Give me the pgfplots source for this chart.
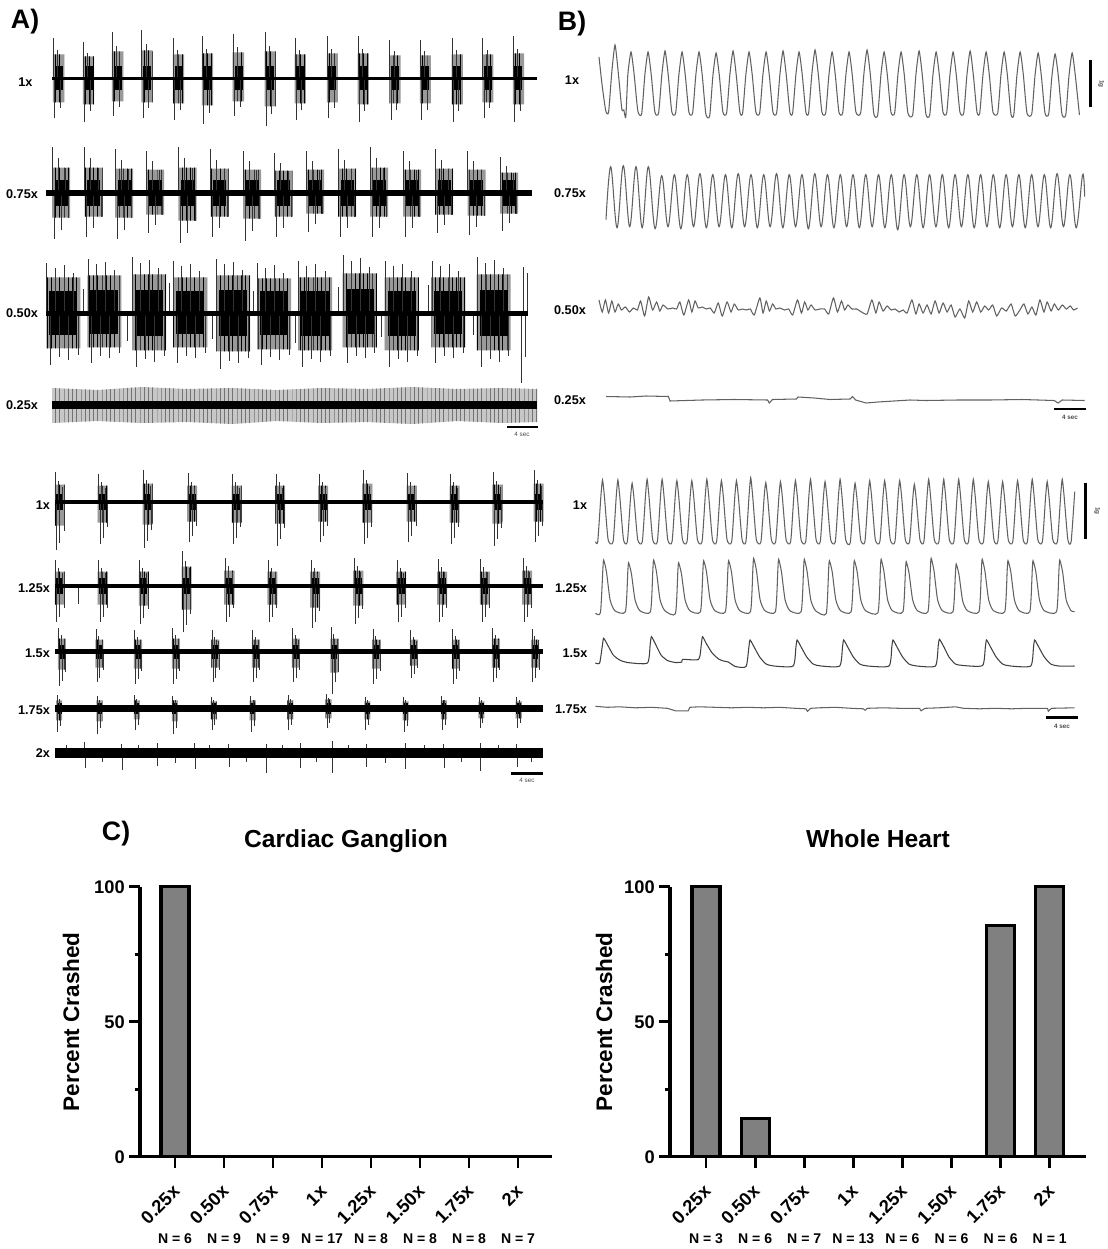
\documentclass[border=0pt]{standalone}
\usepackage{fontspec}
\setmainfont{Liberation Sans}
\usepackage{pgfplots}
\usepackage{pgfplotstable}
\pgfplotsset{compat=1.18}
\usetikzlibrary{patterns}

\pgfplotsset{
  tr/.style={hide axis, scale only axis, clip=false, anchor=west, x=0.1875cm, y=0.25cm, xmin=0, ymin=-7, ymax=7},
  trb/.style={hide axis, scale only axis, clip=false, anchor=west, x=0.2cm, y=0.25cm, xmin=0, ymin=-7, ymax=7},
  spk/.style={ycomb, mark=none, draw=black!80, line width=0.5pt},
  wave/.style={mark=none, draw=black!62, line width=0.75pt, smooth, tension=0.35},
  base/.style={mark=none, draw=black, line width=#1},
  cax/.style={scale only axis, anchor=south west, height=6.75cm, ymin=0, ymax=100, clip=false,
    axis x line=bottom, axis y line=left,
    axis line style={line width=2.2pt},
    x axis line style={-}, y axis line style={-},
    xtick=\empty, ytick=\empty},
}

\newcommand\env[3]{%
  \addplot[ybar, bar width=#2, fill=black!40, draw=none] table[x=t,y=hu]{#1};
  \addplot[ybar, bar width=#2, fill=black!40, draw=none] table[x=t,y=hd]{#1};
  \addplot[ybar, bar width=#2, pattern=vertical lines, pattern color=black, draw=none] table[x=t,y=hu]{#1};
  \addplot[ybar, bar width=#2, pattern=vertical lines, pattern color=black, draw=none] table[x=t,y=hd]{#1};
  \addplot[ycomb, mark=none, draw=black, line width=#3] table[x=t,y=cu]{#1};
  \addplot[ycomb, mark=none, draw=black, line width=#3] table[x=t,y=cd]{#1};
}
\newcommand\tl{\fontsize{9}{10}\selectfont\bfseries}

\pgfplotstableread{
t hu hd cu cd
0.87 2.4 -2.4 1.2 -1.2
4.87 2.2 -2.6 1.2 -1.2
8.74 2.7 -2.3 1.2 -1.2
12.66 2.8 -2.4 1.2 -1.2
16.87 2.4 -2.5 1.2 -1.2
20.74 2.5 -2.7 1.2 -1.2
24.87 2.6 -2.3 1.2 -1.2
29.1 2.7 -2.8 1.2 -1.2
33.1 2.4 -2.5 1.2 -1.2
37.37 2.5 -2.4 1.2 -1.2
41.5 2.5 -2.6 1.2 -1.2
45.71 2.3 -2.5 1.2 -1.2
49.77 2.3 -2.5 1.2 -1.2
54.03 2.4 -2.6 1.2 -1.2
58.1 2.4 -2.4 1.2 -1.2
62.17 2.5 -2.6 1.2 -1.2
}\EnvAa

\pgfplotstableread{
t hu hd cu cd
2.07 2.5 -2.5 1.3 -1.3
6.4 2.5 -2.4 1.3 -1.3
10.47 2.4 -2.5 1.3 -1.3
14.6 2.3 -2.2 1.3 -1.3
18.93 2.5 -2.8 1.3 -1.3
23.2 2.4 -2.4 1.3 -1.3
27.53 2.3 -2.6 1.3 -1.3
31.73 2.2 -2.4 1.3 -1.3
35.93 2.3 -2.1 1.3 -1.3
40.2 2.4 -2.4 1.3 -1.3
44.47 2.5 -2.4 1.3 -1.3
48.87 2.3 -2.4 1.3 -1.3
53.13 2.4 -2.2 1.3 -1.3
57.47 2.3 -2.3 1.3 -1.3
61.8 2.0 -2.1 1.3 -1.3
}\EnvAb

\pgfplotstableread{
t hu hd cu cd
2.31 3.6 -3.5 2.2 -2.2
7.79 3.8 -3.4 2.3 -2.1
13.73 3.9 -3.7 2.3 -2.3
19.2 3.6 -3.4 2.2 -2.1
24.93 3.8 -3.8 2.3 -2.3
30.4 3.5 -3.6 2.2 -2.2
35.87 3.6 -3.7 2.2 -2.3
41.83 4.0 -3.4 2.4 -2.1
47.45 3.6 -3.7 2.2 -2.3
53.64 3.6 -3.4 2.2 -2.1
59.68 3.9 -3.7 2.3 -2.3
}\EnvAc

\pgfplotstableread{
t hu hd cu cd
0.59 1.7 -2.4 0.8 -0.8
6.34 1.6 -2.1 0.8 -0.8
12.28 1.8 -2.3 0.8 -0.8
18.22 1.6 -2.0 0.8 -0.8
24.16 1.6 -2.1 0.8 -0.8
29.96 1.6 -2.2 0.8 -0.8
35.7 1.6 -2.0 0.8 -0.8
41.55 1.8 -2.1 0.8 -0.8
47.5 1.6 -2.0 0.8 -0.8
53.22 1.6 -2.1 0.8 -0.8
58.92 1.7 -2.2 0.8 -0.8
64.4 1.8 -2.0 0.8 -0.8
}\EnvAd

\pgfplotstableread{
t hu hd cu cd
0.59 1.4 -1.9 0.8 -0.8
6.34 1.4 -1.9 0.8 -0.8
11.78 1.4 -2.0 0.8 -0.8
17.5 1.9 -2.4 0.8 -0.8
23.22 1.5 -1.9 0.8 -0.8
28.92 1.4 -1.9 0.8 -0.8
34.63 1.4 -2.2 0.8 -0.8
40.36 1.5 -2.0 0.8 -0.8
46.07 1.4 -1.9 0.8 -0.8
51.55 1.4 -1.9 0.8 -0.8
57.26 1.4 -1.9 0.8 -0.8
62.88 1.5 -1.9 0.8 -0.8
}\EnvAe

\pgfplotstableread{
t hu hd cu cd
0.86 1.3 -1.8 0.7 -0.7
5.86 1.2 -1.6 0.7 -0.7
11.01 1.2 -1.7 0.7 -0.7
16.05 1.3 -1.7 0.7 -0.7
21.33 1.2 -1.6 0.7 -0.7
26.72 1.2 -1.6 0.7 -0.7
32.05 1.3 -1.6 0.7 -0.7
37.2 1.3 -2.1 0.7 -0.7
42.77 1.2 -1.7 0.7 -0.7
47.77 1.2 -1.4 0.7 -0.7
53.38 1.2 -1.7 0.7 -0.7
58.72 1.3 -1.6 0.7 -0.7
63.96 1.2 -1.6 0.7 -0.7
}\EnvAf

\pgfplotstableread{
t hu hd cu cd
0.51 0.8 -1.2 0.5 -0.6
5.85 0.8 -1.3 0.5 -0.6
10.85 0.8 -1.1 0.5 -0.6
15.94 0.8 -1.3 0.5 -0.6
21.09 0.7 -1.1 0.5 -0.6
26.33 0.8 -1.2 0.5 -0.6
31.31 0.8 -1.1 0.5 -0.6
36.42 0.9 -1.0 0.5 -0.6
41.57 0.7 -1.1 0.5 -0.6
46.7 0.7 -1.2 0.5 -0.6
51.79 0.8 -1.1 0.5 -0.6
56.79 0.7 -1.0 0.5 -0.6
61.79 0.7 -1.0 0.5 -0.6
}\EnvAg

\begin{document}
\begin{tikzpicture}[x=0.025cm, y=-0.025cm]
\path[use as bounding box] (0,0) rectangle (1107,1249);

% ================= Panel A, top block =================
\begin{axis}[tr, at={(52*0.025cm,-78.3*0.025cm)}, xmax=64.7]
\env{\EnvAa}{0.28cm}{0.2cm}
\addplot[spk] coordinates {(0.17,4.0)(0.37,-4.0)(0.77,2.8)(1.07,-3.0)(4.17,3.6)(4.37,-4.4)(4.77,2.5)(5.07,-3.3)(8.04,4.6)(8.24,-3.8)(8.64,3.2)(8.94,-2.9)(11.96,4.8)(12.16,-4.0)(12.56,3.4)(12.86,-3.0)(16.17,4.0)(16.37,-4.2)(16.77,2.8)(17.07,-3.2)(20.04,4.2)(20.24,-4.6)(20.64,2.9)(20.94,-3.5)(24.17,4.4)(24.37,-3.8)(24.77,3.1)(25.07,-2.9)(28.4,4.6)(28.6,-4.8)(29.0,3.2)(29.3,-3.6)(32.4,4.0)(32.6,-4.2)(33.0,2.8)(33.3,-3.2)(36.67,4.2)(36.87,-4.0)(37.27,2.9)(37.57,-3.0)(40.8,4.2)(41.0,-4.4)(41.4,2.9)(41.7,-3.3)(45.01,3.8)(45.21,-4.2)(45.61,2.7)(45.91,-3.2)(49.07,3.8)(49.27,-4.2)(49.67,2.7)(49.97,-3.2)(53.33,4.0)(53.53,-4.4)(53.93,2.8)(54.23,-3.3)(57.4,4.0)(57.6,-4.0)(58.0,2.8)(58.3,-3.0)(61.47,4.2)(61.67,-4.4)(62.07,2.9)(62.37,-3.3)};
\addplot[base=0.075cm] coordinates {(0,0)(64.7,0)};
\end{axis}

\begin{axis}[tr, at={(45.5*0.025cm,-192.7*0.025cm)}, xmax=64.9]
\env{\EnvAb}{0.45cm}{0.325cm}
\addplot[spk] coordinates {(0.87,4.6)(1.12,-4.6)(1.67,3.5)(2.07,-3.7)(2.67,2.5)(3.07,-2.5)(5.2,4.6)(5.45,-4.4)(6.0,3.5)(6.4,-3.5)(7.0,2.5)(7.4,-2.4)(9.27,4.4)(9.52,-4.6)(10.07,3.3)(10.47,-3.7)(11.07,2.4)(11.47,-2.5)(13.4,4.2)(13.65,-4.0)(14.2,3.2)(14.6,-3.2)(15.2,2.3)(15.6,-2.2)(17.73,4.6)(17.98,-5.0)(18.53,3.5)(18.93,-4.0)(19.53,2.5)(19.93,-2.8)(22.0,4.4)(22.25,-4.4)(22.8,3.3)(23.2,-3.5)(23.8,2.4)(24.2,-2.4)(26.33,4.2)(26.58,-4.8)(27.13,3.2)(27.53,-3.8)(28.13,2.3)(28.53,-2.6)(30.53,4.0)(30.78,-4.4)(31.33,3.0)(31.73,-3.5)(32.33,2.2)(32.73,-2.4)(34.73,4.2)(34.98,-3.9)(35.53,3.2)(35.93,-3.1)(36.53,2.3)(36.93,-2.1)(39.0,4.4)(39.25,-4.4)(39.8,3.3)(40.2,-3.5)(40.8,2.4)(41.2,-2.4)(43.27,4.6)(43.52,-4.4)(44.07,3.5)(44.47,-3.5)(45.07,2.5)(45.47,-2.4)(47.67,4.2)(47.92,-4.4)(48.47,3.2)(48.87,-3.5)(49.47,2.3)(49.87,-2.4)(51.93,4.4)(52.18,-4.0)(52.73,3.3)(53.13,-3.2)(53.73,2.4)(54.13,-2.2)(56.27,4.2)(56.52,-4.2)(57.07,3.2)(57.47,-3.4)(58.07,2.3)(58.47,-2.3)(60.6,3.6)(60.85,-3.8)(61.4,2.7)(61.8,-3.0)(62.4,2.0)(62.8,-2.1)};
\addplot[base=0.15cm] coordinates {(0,0)(64.9,0)};
\end{axis}

\begin{axis}[tr, at={(46*0.025cm,-313.3*0.025cm)}, xmax=64.3]
\env{\EnvAc}{0.85cm}{0.7cm}
\addplot[spk] coordinates {(0.11,5.0)(0.61,-5.2)(1.21,4.5)(1.81,-4.4)(2.41,4.8)(3.01,-4.7)(3.61,4.0)(4.31,-4.2)(5.0,2.4)(5.59,5.4)(6.09,-5.0)(6.69,4.9)(7.29,-4.3)(7.89,5.1)(8.49,-4.5)(9.09,4.3)(9.79,-4.0)(10.9,-2.8)(11.53,5.6)(12.03,-5.4)(12.63,5.0)(13.23,-4.6)(13.83,5.3)(14.43,-4.9)(15.03,4.5)(15.73,-4.3)(16.5,3.0)(17.0,5.2)(17.5,-5.0)(18.1,4.7)(18.7,-4.3)(19.3,4.9)(19.9,-4.5)(20.5,4.2)(21.2,-4.0)(22.2,-2.6)(22.73,5.4)(23.23,-5.6)(23.83,4.9)(24.43,-4.8)(25.03,5.1)(25.63,-5.0)(26.23,4.3)(26.93,-4.5)(27.7,2.2)(28.2,5.0)(28.7,-5.2)(29.3,4.5)(29.9,-4.4)(30.5,4.8)(31.1,-4.7)(31.7,4.0)(32.4,-4.2)(33.2,-3.0)(33.67,5.2)(34.17,-5.4)(34.77,4.7)(35.37,-4.6)(35.97,4.9)(36.57,-4.9)(37.17,4.2)(37.87,-4.3)(39.0,2.6)(39.63,5.8)(40.13,-5.0)(40.73,5.2)(41.33,-4.3)(41.93,5.5)(42.53,-4.5)(43.13,4.6)(43.83,-4.0)(44.7,-2.4)(45.25,5.2)(45.75,-5.4)(46.35,4.7)(46.95,-4.6)(47.55,4.9)(48.15,-4.9)(48.75,4.2)(49.45,-4.3)(50.9,2.8)(51.44,5.2)(51.94,-5.0)(52.54,4.7)(53.14,-4.3)(53.74,4.9)(54.34,-4.5)(54.94,4.2)(55.64,-4.0)(56.9,-2.2)(57.48,5.6)(57.98,-5.4)(58.58,5.0)(59.18,-4.6)(59.78,5.3)(60.38,-4.9)(60.98,4.5)(61.68,-4.3)(63.3,-7.0)(63.6,4.6)(63.9,-4.4)(64.2,4.0)};
\addplot[base=0.125cm] coordinates {(0,0)(64.3,0)};
\end{axis}

\begin{axis}[tr, at={(52*0.025cm,-405*0.025cm)}, xmax=64.7]
\addplot[fill=black!22, draw=none] coordinates {(0,1.7)(6,1.5)(12,1.8)(18,1.6)(24,1.7)(30,1.5)(36,1.7)(42,1.6)(48,1.8)(54,1.6)(60,1.7)(64.7,1.6)(64.7,-1.7)(60,-1.8)(54,-1.6)(48,-1.9)(42,-1.7)(36,-1.8)(30,-1.6)(24,-1.9)(18,-1.7)(12,-1.8)(6,-1.6)(0,-1.8)};
\addplot[pattern=vertical lines, pattern color=black!55, draw=none] coordinates {(0,1.7)(6,1.5)(12,1.8)(18,1.6)(24,1.7)(30,1.5)(36,1.7)(42,1.6)(48,1.8)(54,1.6)(60,1.7)(64.7,1.6)(64.7,-1.7)(60,-1.8)(54,-1.6)(48,-1.9)(42,-1.7)(36,-1.8)(30,-1.6)(24,-1.9)(18,-1.7)(12,-1.8)(6,-1.6)(0,-1.8)};
\addplot[base=0.2cm] coordinates {(0,0)(64.7,0)};
\end{axis}

% ================= Panel A, bottom block =================
\begin{axis}[tr, at={(55.4*0.025cm,-501.7*0.025cm)}, xmax=65]
\env{\EnvAd}{0.25cm}{0.175cm}
\addplot[spk] coordinates {(0.04,3.0)(0.19,-4.8)(0.44,2.1)(0.59,-4.1)(0.94,1.5)(1.14,-2.9)(5.79,2.8)(5.94,-4.2)(6.19,2.0)(6.34,-3.6)(6.69,1.4)(6.89,-2.5)(11.73,3.2)(11.88,-4.6)(12.13,2.2)(12.28,-3.9)(12.63,1.6)(12.83,-2.8)(17.67,2.9)(17.82,-4.0)(18.07,2.0)(18.22,-3.4)(18.57,1.5)(18.77,-2.4)(23.61,2.8)(23.76,-4.2)(24.01,2.0)(24.16,-3.6)(24.51,1.4)(24.71,-2.5)(29.41,2.8)(29.56,-4.4)(29.81,2.0)(29.96,-3.7)(30.31,1.4)(30.51,-2.6)(35.15,2.8)(35.3,-4.0)(35.55,2.0)(35.7,-3.4)(36.05,1.4)(36.25,-2.4)(41.0,3.2)(41.15,-4.2)(41.4,2.2)(41.55,-3.6)(41.9,1.6)(42.1,-2.5)(46.95,2.9)(47.1,-4.0)(47.35,2.0)(47.5,-3.4)(47.85,1.5)(48.05,-2.4)(52.67,2.8)(52.82,-4.2)(53.07,2.0)(53.22,-3.6)(53.57,1.4)(53.77,-2.5)(58.37,3.0)(58.52,-4.4)(58.77,2.1)(58.92,-3.7)(59.27,1.5)(59.47,-2.6)(63.85,3.2)(64.0,-4.0)(64.25,2.2)(64.4,-3.4)(64.75,1.6)(64.95,-2.4)};
\addplot[base=0.1cm] coordinates {(0,0)(65,0)};
\end{axis}

\begin{axis}[tr, at={(55.4*0.025cm,-585.7*0.025cm)}, xmax=65]
\env{\EnvAe}{0.25cm}{0.175cm}
\addplot[spk] coordinates {(0.04,2.6)(0.19,-3.6)(0.44,1.8)(0.59,-3.1)(0.94,1.3)(1.14,-2.2)(3.1,-1.8)(5.79,2.6)(5.94,-3.6)(6.19,1.8)(6.34,-3.1)(6.69,1.3)(6.89,-2.2)(11.23,2.6)(11.38,-3.8)(11.63,1.8)(11.78,-3.2)(12.13,1.3)(12.33,-2.3)(16.95,3.5)(17.1,-4.6)(17.35,2.5)(17.5,-3.9)(17.85,1.8)(18.05,-2.8)(22.67,2.8)(22.82,-3.6)(23.07,2.0)(23.22,-3.1)(23.57,1.4)(23.77,-2.2)(28.37,2.6)(28.52,-3.6)(28.77,1.8)(28.92,-3.1)(29.27,1.3)(29.47,-2.2)(34.08,2.6)(34.23,-4.2)(34.48,1.8)(34.63,-3.6)(34.98,1.3)(35.18,-2.5)(39.81,2.8)(39.96,-3.8)(40.21,2.0)(40.36,-3.2)(40.71,1.4)(40.91,-2.3)(45.52,2.6)(45.67,-3.6)(45.92,1.8)(46.07,-3.1)(46.42,1.3)(46.62,-2.2)(51.0,2.7)(51.15,-3.6)(51.4,1.9)(51.55,-3.1)(51.9,1.4)(52.1,-2.2)(56.71,2.7)(56.86,-3.6)(57.11,1.9)(57.26,-3.1)(57.61,1.4)(57.81,-2.2)(62.33,2.8)(62.48,-3.6)(62.73,2.0)(62.88,-3.1)(63.23,1.4)(63.43,-2.2)};
\addplot[base=0.1cm] coordinates {(0,0)(65,0)};
\end{axis}

\begin{axis}[tr, at={(55.4*0.025cm,-651.7*0.025cm)}, xmax=65]
\env{\EnvAf}{0.2cm}{0.15cm}
\addplot[spk] coordinates {(0.41,2.4)(0.53,-3.4)(0.76,1.7)(0.91,-2.9)(1.21,1.2)(1.36,-2.0)(5.41,2.3)(5.53,-3.0)(5.76,1.6)(5.91,-2.6)(6.21,1.2)(6.36,-1.8)(10.56,2.2)(10.68,-3.2)(10.91,1.5)(11.06,-2.7)(11.36,1.1)(11.51,-1.9)(15.6,2.4)(15.72,-3.2)(15.95,1.7)(16.1,-2.7)(16.4,1.2)(16.55,-1.9)(20.88,2.2)(21.0,-3.0)(21.23,1.5)(21.38,-2.6)(21.68,1.1)(21.83,-1.8)(26.27,2.2)(26.39,-3.0)(26.62,1.5)(26.77,-2.6)(27.07,1.1)(27.22,-1.8)(31.6,2.4)(31.72,-3.0)(31.95,1.7)(32.1,-2.6)(32.4,1.2)(32.55,-1.8)(36.75,2.5)(36.87,-4.2)(37.1,1.8)(37.25,-3.0)(37.55,1.3)(37.7,-2.0)(42.32,2.3)(42.44,-3.2)(42.67,1.6)(42.82,-2.7)(43.12,1.2)(43.27,-1.9)(47.32,2.2)(47.44,-2.6)(47.67,1.5)(47.82,-2.2)(48.12,1.1)(48.27,-1.6)(52.93,2.3)(53.05,-3.2)(53.28,1.6)(53.43,-2.7)(53.73,1.2)(53.88,-1.9)(58.27,2.4)(58.39,-3.0)(58.62,1.7)(58.77,-2.6)(59.07,1.2)(59.22,-1.8)(63.51,2.3)(63.63,-3.0)(63.86,1.6)(64.01,-2.6)(64.31,1.2)(64.46,-1.8)};
\addplot[base=0.125cm] coordinates {(0,0)(65,0)};
\end{axis}

\begin{axis}[tr, at={(55.4*0.025cm,-708.3*0.025cm)}, xmax=65]
\env{\EnvAg}{0.15cm}{0.125cm}
\addplot[spk] coordinates {(0.21,1.3)(0.31,-2.4)(0.51,0.9)(0.66,-1.8)(5.55,1.2)(5.65,-2.6)(5.85,0.8)(6.0,-2.0)(10.55,1.3)(10.65,-2.2)(10.85,0.9)(11.0,-1.7)(15.64,1.2)(15.74,-2.6)(15.94,0.8)(16.09,-2.0)(20.79,1.1)(20.89,-2.2)(21.09,0.8)(21.24,-1.7)(26.03,1.2)(26.13,-2.4)(26.33,0.8)(26.48,-1.8)(31.01,1.3)(31.11,-2.2)(31.31,0.9)(31.46,-1.7)(36.12,1.4)(36.22,-2.0)(36.42,1.0)(36.57,-1.5)(41.27,1.1)(41.37,-2.2)(41.57,0.8)(41.72,-1.7)(46.4,1.1)(46.5,-2.4)(46.7,0.8)(46.85,-1.8)(51.49,1.2)(51.59,-2.2)(51.79,0.8)(51.94,-1.7)(56.49,1.1)(56.59,-2.0)(56.79,0.8)(56.94,-1.5)(61.49,1.1)(61.59,-2.0)(61.79,0.8)(61.94,-1.5)};
\addplot[base=0.175cm] coordinates {(0,0)(65,0)};
\end{axis}

\begin{axis}[tr, at={(55.4*0.025cm,-752.7*0.025cm)}, xmax=65]
\addplot[spk] coordinates {(1.5,0.8)(3.89,1.1)(3.99,-1.5)(6.2,-0.9)(8.8,0.9)(8.9,-1.7)(11.0,0.8)(13.55,1.0)(13.65,-1.3)(16.0,-1.0)(18.56,1.0)(18.66,-1.6)(20.5,0.8)(23.09,0.9)(23.19,-1.4)(25.5,-0.9)(28.08,0.9)(28.18,-2.0)(30.2,0.8)(32.61,1.0)(32.71,-1.5)(34.8,-0.9)(36.88,1.2)(36.98,-2.0)(39.0,0.8)(41.41,0.9)(41.51,-1.4)(44.0,-1.0)(46.61,1.0)(46.71,-1.6)(49.2,0.8)(51.68,0.9)(51.78,-1.5)(54.1,-0.9)(56.61,1.0)(56.71,-1.8)(59.0,0.8)(61.41,0.9)(61.51,-1.4)(63.5,-0.9)};
\addplot[base=0.25cm] coordinates {(0,0)(65,0)};
\end{axis}

% ================= Panel B, top block =================
\begin{axis}[trb, at={(599*0.025cm,-112*0.025cm)}, xmax=60.04]
\addplot[wave] coordinates {(0,5.5)(0.4,2.6)(0.85,0.1)(1.2,0)(1.6,4.0)(2.0,6.7)(2.4,4.0)(2.85,0.3)(3.1,0.2)(3.35,-0.5)(3.6,3.7)(4.0,6.0)(4.4,3.7)(4.85,0.1)(5.33,-0.2)(5.73,3.7)(6.13,6.0)(6.53,3.7)(6.98,0)(7.45,-0.1)(7.85,3.7)(8.25,6.1)(8.65,3.7)(9.1,0)(9.58,-0.1)(9.98,3.7)(10.38,6.0)(10.78,3.7)(11.23,0)(11.7,-0.1)(12.1,3.7)(12.5,6.0)(12.9,3.7)(13.35,-0.2)(13.83,-0.4)(14.23,3.6)(14.63,5.9)(15.03,3.7)(15.48,0)(15.95,-0.1)(16.35,3.7)(16.75,6.1)(17.15,3.7)(17.6,0)(17.95,-0.1)(18.35,3.7)(18.75,6.0)(19.15,3.7)(19.6,0)(20.08,-0.1)(20.48,3.7)(20.88,6.0)(21.28,3.7)(21.73,0)(22.2,-0.1)(22.6,3.7)(23.0,6.1)(23.4,3.7)(23.85,0)(24.2,-0.1)(24.6,3.7)(25.0,6.0)(25.4,3.7)(25.85,0)(26.2,-0.1)(26.6,3.8)(27.0,6.2)(27.4,3.8)(27.85,0)(28.33,-0.1)(28.73,3.7)(29.13,6.0)(29.53,3.7)(29.98,0)(30.45,-0.1)(30.85,3.7)(31.25,6.0)(31.65,3.7)(32.1,0)(32.7,-0.1)(33.1,3.8)(33.5,6.2)(33.9,3.8)(34.35,-0.2)(34.83,-0.3)(35.23,3.7)(35.63,6.0)(36.03,3.7)(36.48,0)(36.95,-0.1)(37.35,3.7)(37.75,6.0)(38.15,3.7)(38.6,-0.1)(39.2,-0.3)(39.6,3.7)(40.0,6.1)(40.4,3.7)(40.85,-0.2)(41.33,-0.3)(41.73,3.7)(42.13,6.0)(42.53,3.7)(42.98,0)(43.45,-0.1)(43.85,3.7)(44.25,6.0)(44.65,3.7)(45.1,0)(45.58,-0.1)(45.98,3.7)(46.38,6.1)(46.78,3.7)(47.23,0)(47.58,-0.1)(47.98,3.7)(48.38,6.0)(48.78,3.7)(49.23,0)(49.83,-0.1)(50.23,3.7)(50.63,6.0)(51.03,3.7)(51.48,-0.2)(51.83,-0.3)(52.23,3.7)(52.63,6.0)(53.03,3.7)(53.48,-0.1)(54.08,-0.2)(54.48,3.6)(54.88,5.9)(55.28,3.6)(55.73,-0.1)(56.2,-0.2)(56.6,3.6)(57.0,5.8)(57.4,3.6)(57.85,-0.2)(58.33,-0.3)(58.73,3.6)(59.13,5.9)(59.53,3.6)(60.04,-0.3)};
\end{axis}

\begin{axis}[trb, at={(606*0.025cm,-226.7*0.025cm)}, xmax=59.82]
\addplot[wave, tension=0.6] coordinates {(0,0.7)(0.59,6.0)(1.38,-0.1)(2.16,6.1)(2.96,0)(3.75,6.0)(4.52,-0.1)(5.29,6.0)(6.13,-0.2)(6.96,5.1)(7.75,0)(8.55,5.2)(9.35,-0.2)(10.15,5.2)(10.94,0)(11.74,5.3)(12.54,-0.1)(13.34,5.2)(14.13,0)(14.93,5.2)(15.72,-0.1)(16.52,5.3)(17.32,0)(18.12,5.2)(18.91,-0.1)(19.71,5.2)(20.51,0)(21.31,5.3)(22.1,-0.1)(22.9,5.2)(23.69,0)(24.49,5.2)(25.29,-0.2)(26.09,5.3)(26.88,0)(27.68,5.2)(28.48,-0.1)(29.28,5.2)(30.07,0)(30.87,5.2)(31.66,-0.1)(32.46,5.2)(33.26,0)(34.06,5.2)(34.85,-0.1)(35.65,5.2)(36.45,-0.3)(37.25,5.2)(38.04,0)(38.84,5.2)(39.63,-0.1)(40.43,5.2)(41.23,0)(42.03,5.2)(42.82,-0.1)(43.62,5.2)(44.42,0)(45.22,5.2)(46.01,-0.1)(46.81,5.2)(47.6,0)(48.4,5.2)(49.2,-0.1)(50.0,5.2)(50.79,0)(51.59,5.2)(52.39,-0.1)(53.19,5.2)(53.98,0)(54.78,5.2)(55.57,-0.1)(56.37,5.3)(57.17,0)(57.97,5.2)(58.76,-0.1)(59.56,5.2)(59.82,3.0)};
\end{axis}

\begin{axis}[trb, at={(599*0.025cm,-310*0.025cm)}, xmax=59.8]
\addplot[wave] coordinates {(0.0,1.0)(0.4,-0.2)(0.8,1.0)(1.2,-0.3)(1.6,0.9)(2.0,-0.2)(2.4,0.6)(2.8,0.0)(3.3,0.3)(3.8,-0.2)(4.3,0.2)(4.8,0.0)(5.2,0.9)(5.7,-0.6)(6.2,1.3)(6.7,0.0)(7.2,0.8)(7.6,-0.1)(8.0,0.5)(8.6,0.1)(9.2,0.2)(9.7,0.1)(10.1,0.8)(10.6,-0.5)(11.2,1.0)(11.6,-0.2)(12.0,0.9)(12.4,0.2)(12.9,0.3)(13.4,0.1)(13.9,0.2)(14.4,-0.3)(14.9,0.7)(15.4,-0.6)(16.0,0.8)(16.5,-0.2)(16.9,0.6)(17.4,0.0)(17.9,0.1)(18.4,0.0)(18.9,0.1)(19.4,-0.5)(20.1,1.2)(20.5,-0.3)(20.9,0.9)(21.3,-0.1)(21.7,0.6)(22.1,0.1)(22.6,0.2)(23.2,0.0)(23.7,0.1)(24.2,-0.5)(24.8,1.0)(25.3,-0.3)(25.7,0.8)(26.1,0.0)(26.5,0.5)(27.0,0.0)(27.6,0.1)(28.2,0.1)(28.7,-0.4)(29.3,1.2)(29.8,-0.2)(30.3,0.9)(30.7,0.0)(31.1,0.5)(31.6,0.1)(32.2,0.1)(32.8,-0.2)(33.5,-0.4)(34.1,1.0)(34.6,-0.3)(35.0,0.8)(35.5,-0.1)(36.0,0.4)(36.5,0.0)(37.0,0.1)(37.5,-0.2)(38.0,0.0)(38.5,-0.3)(39.1,1.0)(39.6,-0.4)(40.0,0.6)(40.5,-0.3)(41.0,0.5)(41.5,-0.4)(42.0,0.9)(42.5,-0.3)(43.0,0.7)(43.5,-0.2)(44.0,0.5)(44.5,-0.7)(45.1,0.1)(45.7,-0.8)(46.2,0.9)(46.7,-0.2)(47.2,0.8)(47.7,-0.2)(48.2,0.4)(48.7,0.0)(49.2,0.5)(49.7,-0.6)(50.3,0.2)(50.9,-0.1)(51.5,0.6)(52.0,-0.6)(52.6,0.0)(53.1,0.6)(53.6,-0.4)(54.1,0.3)(54.6,-0.5)(55.1,1.0)(55.6,-0.2)(56.0,0.8)(56.5,-0.1)(56.9,0.6)(57.4,0.0)(57.9,0.5)(58.4,0.1)(58.9,0.4)(59.3,0.0)(59.8,0.2)};
\end{axis}

\begin{axis}[trb, at={(606*0.025cm,-400*0.025cm)}, xmax=59.8]
\addplot[mark=none, draw=black!62, line width=0.75pt] coordinates {(0,0.35)(3,0.3)(5,0.4)(7.8,0.35)(8.0,-0.1)(12,0.0)(16,0.05)(20.2,0.0)(20.4,-0.3)(20.8,0.05)(23.8,0.1)(24.0,0.3)(26,0.2)(28,0.05)(30.5,0.1)(30.8,0.35)(31.2,0.0)(32.5,-0.3)(34,-0.2)(36,-0.1)(38,0.0)(40,-0.05)(44,0.0)(48,0.0)(52,0.05)(56,-0.05)(56.5,-0.3)(57,0.0)(59.8,-0.05)};
\end{axis}

% ================= Panel B, bottom block =================
\begin{axis}[trb, at={(595.4*0.025cm,-541.7*0.025cm)}, xmax=59.9]
\addplot[wave] coordinates {(0,0)(0.29,0)(0.69,4.6)(0.89,6.17)(1.14,4.4)(1.59,0.2)(2.21,0)(2.61,4.6)(2.81,6.17)(3.06,4.4)(3.51,0.2)(3.99,0)(4.39,4.4)(4.59,5.84)(4.84,4.2)(5.29,0.2)(5.86,0)(6.26,4.6)(6.46,6.24)(6.71,4.4)(7.16,0.2)(7.74,0)(8.14,4.6)(8.34,6.24)(8.59,4.4)(9.04,0.2)(9.58,0)(9.98,4.6)(10.18,6.1)(10.43,4.4)(10.88,0.2)(11.45,0)(11.85,4.6)(12.05,6.1)(12.3,4.4)(12.75,0.2)(13.33,0)(13.73,4.6)(13.93,6.24)(14.18,4.4)(14.63,0.2)(15.15,0)(15.55,4.6)(15.75,6.1)(16.0,4.4)(16.45,0.2)(17.03,0)(17.43,4.6)(17.63,6.1)(17.88,4.4)(18.33,0.2)(18.81,0)(19.21,4.7)(19.41,6.4)(19.66,4.5)(20.11,0.2)(20.69,0)(21.09,4.5)(21.29,5.9)(21.54,4.3)(21.99,0.2)(22.53,0)(22.93,4.5)(23.13,6.0)(23.38,4.3)(23.83,0.2)(24.4,0)(24.8,4.6)(25.0,6.1)(25.25,4.4)(25.7,0.2)(26.28,0)(26.68,4.6)(26.88,6.24)(27.13,4.4)(27.58,0.2)(28.1,0)(28.5,4.5)(28.7,6.0)(28.95,4.3)(29.4,0.2)(29.98,0)(30.38,4.6)(30.58,6.24)(30.83,4.4)(31.28,0.2)(31.85,-0.1)(32.25,4.4)(32.45,5.84)(32.7,4.2)(33.15,0.2)(33.68,0)(34.08,4.6)(34.28,6.1)(34.53,4.4)(34.98,0.2)(35.55,0)(35.95,4.6)(36.15,6.1)(36.4,4.4)(36.85,0.2)(37.43,0)(37.83,4.6)(38.03,6.1)(38.28,4.4)(38.73,0.2)(39.26,0)(39.66,4.3)(39.86,5.74)(40.11,4.1)(40.56,0.2)(41.05,0)(41.45,4.6)(41.65,6.24)(41.9,4.4)(42.35,0.2)(42.93,0)(43.33,4.6)(43.53,6.24)(43.78,4.4)(44.23,0.2)(44.8,0)(45.2,4.6)(45.4,6.24)(45.65,4.4)(46.1,0.2)(46.63,0)(47.03,4.6)(47.23,6.24)(47.48,4.4)(47.93,0.2)(48.5,0)(48.9,4.5)(49.1,6.0)(49.35,4.3)(49.8,0.2)(50.29,0)(50.69,4.5)(50.89,6.0)(51.14,4.3)(51.59,0.2)(52.16,0)(52.56,4.6)(52.76,6.1)(53.01,4.4)(53.46,0.2)(53.99,0)(54.39,4.6)(54.59,6.24)(54.84,4.4)(55.29,0.2)(55.86,0)(56.26,4.5)(56.46,6.0)(56.71,4.3)(57.16,0.2)(57.74,0)(58.14,4.6)(58.34,6.24)(58.59,4.4)(59.04,0.2)(59.45,0)(59.9,5.0)};
\end{axis}

\begin{axis}[trb, at={(595.4*0.025cm,-611.7*0.025cm)}, xmax=59.9]
\addplot[wave] coordinates {(0,-0.15)(0.63,-0.1)(0.93,4.2)(1.03,5.17)(1.38,4.0)(1.83,1.2)(2.43,0.1)(3.75,0)(4.05,4.0)(4.15,4.9)(4.5,3.8)(4.95,1.2)(5.55,0.1)(6.88,0)(7.18,4.2)(7.28,5.17)(7.63,4.0)(8.08,1.2)(8.68,0.1)(10.0,-0.2)(10.3,4.0)(10.4,4.9)(10.75,3.8)(11.2,1.2)(11.8,0.1)(13.13,0)(13.43,4.1)(13.53,5.1)(13.88,4.0)(14.33,1.2)(14.93,0.1)(16.25,0)(16.55,4.1)(16.65,5.1)(17.0,4.0)(17.45,1.2)(18.05,0.1)(19.38,0)(19.68,4.3)(19.78,5.34)(20.13,4.1)(20.58,1.2)(21.18,0.1)(22.5,0)(22.8,4.2)(22.9,5.24)(23.25,4.0)(23.7,1.2)(24.3,0.1)(25.71,0)(26.01,4.2)(26.11,5.24)(26.46,4.0)(26.91,1.2)(27.51,0.1)(28.84,-0.2)(29.14,4.1)(29.24,5.1)(29.59,4.0)(30.04,1.2)(30.64,0.1)(31.96,0)(32.26,4.1)(32.36,5.1)(32.71,4.0)(33.16,1.2)(33.76,0.1)(35.31,-0.1)(35.61,4.2)(35.71,5.24)(36.06,4.0)(36.51,1.2)(37.11,0.1)(38.44,0)(38.74,4.0)(38.84,5.0)(39.19,3.9)(39.64,1.2)(40.24,0.1)(41.56,0)(41.86,4.3)(41.96,5.34)(42.31,4.1)(42.76,1.2)(43.36,0.1)(44.69,0)(44.99,3.8)(45.09,4.77)(45.44,3.7)(45.89,1.1)(46.49,0.1)(47.94,0)(48.24,4.2)(48.34,5.24)(48.69,4.0)(49.14,1.2)(49.74,0.1)(51.16,0)(51.46,4.1)(51.56,5.1)(51.91,4.0)(52.36,1.2)(52.96,0.1)(54.29,0)(54.59,4.1)(54.69,5.1)(55.04,4.0)(55.49,1.2)(56.09,0.1)(57.63,0)(57.93,4.2)(58.03,5.17)(58.38,4.0)(58.83,1.2)(59.43,0.1)(59.9,0)};
\end{axis}

\begin{axis}[trb, at={(595.4*0.025cm,-665*0.025cm)}, xmax=59.9]
\addplot[wave, draw=black!75] coordinates {(0,0.2)(0.53,0.2)(0.88,2.0)(1.03,2.67)(1.53,2.0)(2.23,1.0)(3.03,0.5)(4.0,0.25)(6.5,0.2)(6.85,2.1)(7.0,2.83)(7.5,2.1)(8.2,1.0)(9.0,0.45)(10.0,0.25)(10.8,0.3)(10.9,0.57)(12.9,0.57)(13.24,2.1)(13.39,2.83)(13.89,2.1)(14.59,1.2)(15.39,0.6)(16.0,0.4)(16.6,0.3)(17.5,-0.15)(18.83,-0.15)(19.18,1.8)(19.33,2.5)(19.83,1.8)(20.53,0.8)(21.33,0.1)(22.33,-0.1)(24.71,-0.1)(25.06,1.8)(25.21,2.5)(25.71,1.8)(26.41,0.8)(27.21,0.1)(28.21,-0.1)(30.53,-0.1)(30.88,1.8)(31.03,2.5)(31.53,1.8)(32.23,0.8)(33.03,0.1)(34.03,-0.1)(36.69,-0.1)(37.04,1.8)(37.19,2.5)(37.69,1.8)(38.39,0.8)(39.19,0.1)(40.19,-0.1)(42.49,-0.1)(42.84,1.9)(42.99,2.57)(43.49,1.9)(44.19,0.8)(44.99,0.1)(45.99,-0.05)(48.38,-0.05)(48.73,1.8)(48.88,2.5)(49.38,1.8)(50.08,0.8)(50.88,0.1)(51.88,-0.1)(54.4,-0.1)(54.75,1.8)(54.9,2.5)(55.4,1.8)(56.1,0.8)(56.9,0.1)(57.9,-0.1)(59.9,-0.1)};
\end{axis}

\begin{axis}[trb, at={(595.4*0.025cm,-708.3*0.025cm)}, xmax=59.9]
\addplot[mark=none, draw=black!62, line width=0.75pt] coordinates {(0,0.2)(1.5,0.1)(3,0.15)(5,0.05)(7,0.1)(9,0.0)(10.0,-0.25)(11.6,-0.25)(11.8,0.1)(13,0.15)(15,0.1)(17,0.05)(19,0.1)(21,0.05)(23,0.1)(25,0.0)(26.3,-0.05)(26.5,-0.3)(26.9,0.0)(28,0.05)(30,0.1)(32,0.0)(33.5,-0.05)(33.7,-0.2)(34,0.0)(36,0.05)(38,0.0)(40.5,0.0)(40.7,-0.25)(41.2,0.0)(43,0.05)(45,0.15)(46,0.0)(48,-0.05)(50,0.0)(52,-0.05)(54,0.0)(56.5,0.0)(56.6,-0.3)(57,0.0)(59.9,0.05)};
\end{axis}

% ================= Panel C =================
\begin{axis}[cax, at={(140*0.025cm,-1156.7*0.025cm)}, width=10.29cm, xmin=-0.714, xmax=7.69]
\addplot[ybar, bar width=0.7cm, fill=gray, draw=black, line width=2.2pt] coordinates {(0,100)(1,0)(2,0)(3,0)(4,0)(5,0)(6,0)(7,0)};
\end{axis}
\begin{axis}[cax, at={(670*0.025cm,-1156.7*0.025cm)}, width=10.4cm, xmin=-0.733, xmax=7.74]
\addplot[ybar, bar width=0.7cm, fill=gray, draw=black, line width=2.2pt] coordinates {(0,100)(1,14.3)(2,0)(3,0)(4,0)(5,0)(6,85.7)(7,100)};
\end{axis}

% axis ticks of panel C
\foreach \xx in {175,224,273,322,371,420,469,518,706,755.1,804.2,853.3,902.4,951.5,1000.6,1049.7}
  \draw[line width=2pt] (\xx,1156.7) -- (\xx,1168);
\foreach \yy in {1156.7,1021.7,886.7} {
  \draw[line width=2pt] (129,\yy) -- (140,\yy);
  \draw[line width=2pt] (659,\yy) -- (670,\yy);
}
\foreach \yy in {1089.2,954.2} {
  \draw[line width=2pt] (134.5,\yy) -- (140,\yy);
  \draw[line width=2pt] (664.5,\yy) -- (670,\yy);
}

% ---- texts ----
\node[anchor=base west, font=\fontsize{19}{21}\selectfont\bfseries] at (6,28) {A)};
\node[anchor=base west, font=\fontsize{19}{21}\selectfont\bfseries] at (553,30) {B)};
\node[anchor=base west, font=\fontsize{19}{21}\selectfont\bfseries] at (97,840) {C)};

\node[font=\tl] at (25.5,81.7) {1x};
\node[font=\tl] at (22,194) {0.75x};
\node[font=\tl] at (22,313) {0.50x};
\node[font=\tl] at (22,405) {0.25x};
\node[font=\tl] at (43,505) {1x};
\node[font=\tl] at (34,588) {1.25x};
\node[font=\tl] at (37.5,653) {1.5x};
\node[font=\tl] at (34,710) {1.75x};
\node[font=\tl] at (43,753) {2x};
\node[font=\tl] at (572,80) {1x};
\node[font=\tl] at (570,193) {0.75x};
\node[font=\tl] at (570,310) {0.50x};
\node[font=\tl] at (570,400) {0.25x};
\node[font=\tl] at (580,505) {1x};
\node[font=\tl] at (571,588) {1.25x};
\node[font=\tl] at (575,653) {1.5x};
\node[font=\tl] at (571,709) {1.75x};

% scale bars
\draw[line width=0.07cm] (507,427) -- (537.5,427);
\node[font=\fontsize{4.5}{5}\selectfont, text=black!70] at (522,434) {4 sec};
\draw[line width=0.07cm] (510.7,773.3) -- (543,773.3);
\node[font=\fontsize{4.5}{5}\selectfont, text=black!70] at (527,780) {4 sec};
\draw[line width=0.07cm] (1054,409) -- (1085.7,409);
\node[font=\fontsize{4.5}{5}\selectfont\bfseries, text=black!70] at (1070,417) {4 sec};
\draw[line width=0.07cm] (1046.4,717.3) -- (1077.5,717.3);
\node[font=\fontsize{4.5}{5}\selectfont\bfseries, text=black!70] at (1062,726) {4 sec};
\draw[line width=0.075cm] (1090,60) -- (1090,106.7);
\node[rotate=-90, font=\fontsize{4.5}{5}\selectfont\bfseries, text=black!70] at (1101,84) {1g};
\draw[line width=0.075cm] (1085.7,482.7) -- (1085.7,539.3);
\node[rotate=-90, font=\fontsize{4.5}{5}\selectfont\bfseries, text=black!70] at (1097,511) {1g};

% panel C texts
\node[anchor=base, font=\fontsize{17.5}{20}\selectfont\bfseries] at (346,847) {Cardiac Ganglion};
\node[anchor=base, font=\fontsize{17.5}{20}\selectfont\bfseries] at (878,847) {Whole Heart};
\node[rotate=90, font=\fontsize{16}{18}\selectfont\bfseries] at (71,1021.7) {Percent Crashed};
\node[rotate=90, font=\fontsize{16}{18}\selectfont\bfseries] at (604,1021.7) {Percent Crashed};
\foreach \yy/\ll in {1156.7/0, 1021.7/50, 886.7/100} {
  \node[anchor=east, inner sep=0pt, font=\fontsize{13}{14}\selectfont\bfseries] at (125,\yy) {\ll};
  \node[anchor=east, inner sep=0pt, font=\fontsize{13}{14}\selectfont\bfseries] at (655,\yy) {\ll};
}
\foreach \xx/\ll/\nn in {175/0.25x/6, 224/0.50x/9, 273/0.75x/9, 322/1x/17, 371/1.25x/8, 420/1.50x/8, 469/1.75x/8, 518/2x/7} {
  \node[rotate=45, anchor=east, inner sep=0pt, font=\fontsize{13}{14}\selectfont\bfseries] at (\xx+1.5,1188) {\ll};
  \node[font=\fontsize{10}{11}\selectfont\bfseries] at (\xx,1238.3) {N = \nn};
}
\foreach \xx/\ll/\nn in {706/0.25x/3, 755.1/0.50x/6, 804.2/0.75x/7, 853.3/1x/13, 902.4/1.25x/6, 951.5/1.50x/6, 1000.6/1.75x/6, 1049.7/2x/1} {
  \node[rotate=45, anchor=east, inner sep=0pt, font=\fontsize{13}{14}\selectfont\bfseries] at (\xx+1.5,1188) {\ll};
  \node[font=\fontsize{10}{11}\selectfont\bfseries] at (\xx,1238.3) {N = \nn};
}
\end{tikzpicture}
\end{document}
